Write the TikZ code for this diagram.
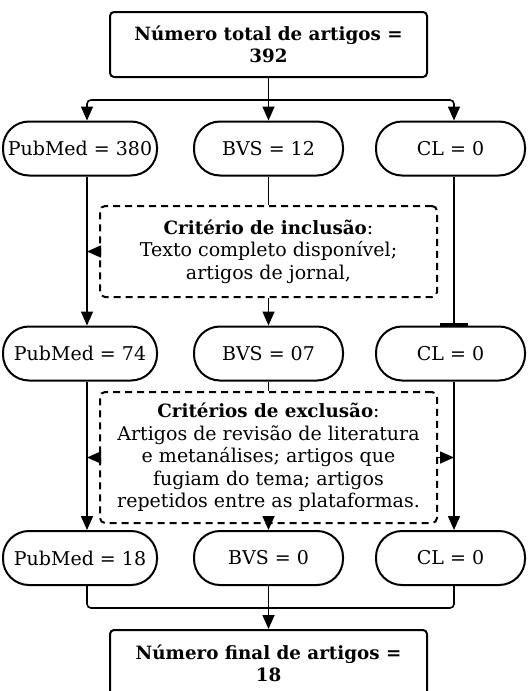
\documentclass[tikz,border=0pt]{standalone}
\usepackage{fontspec}
\setmainfont{DejaVu Serif}
\usetikzlibrary{arrows.meta,calc}
\begin{document}
\begin{tikzpicture}[x=1pt,y=-1pt,
  every node/.style={font=\fontsize{19}{22.5}\selectfont, align=center, inner sep=0pt},
  boldtxt/.style={font=\fontsize{18.3}{22}\selectfont\bfseries},
  mainbox/.style={draw, line width=2pt, rounded corners=4pt, minimum width=317pt},
  pill/.style={draw, line width=2pt, rounded corners=26pt, minimum height=54pt},
  critbox/.style={draw, line width=2pt, dashed, dash pattern=on 7pt off 5pt, rounded corners=5pt, minimum width=337pt},
  conn/.style={line width=1.6pt},
  arr/.style={conn, -{Triangle[width=12pt,length=14pt]}},
  bararr/.style={conn, -{Bar[width=28pt,line width=2.5pt]}}
]
\clip (0,0) rectangle (530,691);
\coordinate (c1) at (87,0);
\coordinate (c2) at (268.5,0);
\coordinate (c3) at (454,0);

\node[mainbox, boldtxt, minimum height=65pt] (top) at (268.5,44.5) {Número total de artigos =\\392};

\node[pill, minimum width=154pt] (p1) at (80,148.5) {PubMed = 380};
\node[pill, minimum width=149pt] (b1) at (268.5,148.5) {BVS = 12};
\node[pill, minimum width=149pt] (l1) at (450.5,148.5) {CL = 0};

\node[critbox, minimum height=91pt] (incl) at (268.5,251.5) {{\fontsize{18.3}{22.5}\selectfont\bfseries Critério de inclusão}:\\Texto completo disponível;\\artigos de jornal,};

\node[pill, minimum width=154pt] (p2) at (80,353.5) {PubMed = 74};
\node[pill, minimum width=149pt] (b2) at (268.5,353.5) {BVS = 07};
\node[pill, minimum width=149pt] (l2) at (450.5,353.5) {CL = 0};

\node[critbox, minimum height=131pt] (excl) at (268.5,457.5) {{\fontsize{18.3}{22.5}\selectfont\bfseries Critérios de exclusão}:\\Artigos de revisão de literatura\\e metanálises; artigos que\\fugiam do tema; artigos\\repetidos entre as plataformas.};

\node[pill, minimum width=154pt] (p3) at (80,558) {PubMed = 18};
\node[pill, minimum width=149pt] (b3) at (268.5,558) {BVS = 0};
\node[pill, minimum width=149pt] (l3) at (450.5,558) {CL = 0};

\node[mainbox, boldtxt, minimum height=66pt] (fin) at (268.5,663) {Número final de artigos =\\18};

% top branching
\coordinate (split) at ($(top.south)+(0,22)$);
\draw[conn] (top.south) -- (split);
\draw[arr, rounded corners=4pt] (split) -| (p1.north -| c1);
\draw[arr] (split) -- (b1.north);
\draw[arr, rounded corners=4pt] (split) -| (l1.north -| c3);

% first stage
\draw[arr] (p1.south -| c1) -- (p2.north -| c1);
\draw[conn] (b1.south) -- (incl.north);
\draw[arr] (incl.south) -- (b2.north);
\draw[bararr] (l1.south -| c3) -- (l2.north -| c3);
\draw[arr] (incl.west) -- (incl.west -| c1);

% second stage
\draw[arr] (p2.south -| c1) -- (p3.north -| c1);
\draw[conn] (b2.south) -- (excl.north);
\draw[arr] (excl.south) -- (b3.north);
\draw[arr] (l2.south -| c3) -- (l3.north -| c3);
\draw[arr] (excl.west) -- (excl.west -| c1);
\draw[arr] (excl.east) -- (excl.east -| c3);

% join
\coordinate (join) at (268.5,608);
\draw[conn, rounded corners=4pt] (p3.south -| c1) |- (join);
\draw[conn, rounded corners=4pt] (l3.south -| c3) |- (join);
\draw[arr] (b3.south) -- (fin.north);
\end{tikzpicture}
\end{document}
